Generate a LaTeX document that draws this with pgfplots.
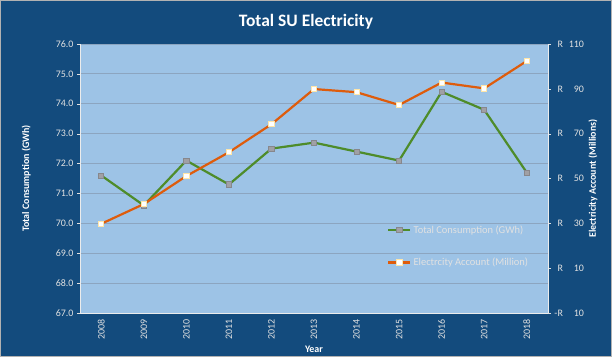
\documentclass[border=0pt]{standalone}
\usepackage{pgfplots}
\pgfplotsset{compat=1.18}
\usepackage{fontspec}
\setmainfont{Carlito}
\definecolor{bgblue}{RGB}{19,75,125}
\definecolor{plotblue}{RGB}{157,195,230}
\definecolor{gridc}{RGB}{140,165,192}
\definecolor{lgreen}{RGB}{78,140,42}
\definecolor{lorange}{RGB}{222,92,12}
\definecolor{tickc}{RGB}{225,225,225}
\definecolor{mgray}{RGB}{160,160,165}
\definecolor{mgrayb}{RGB}{135,135,140}
\definecolor{mcream}{RGB}{255,230,170}
\pgfplotstableread{
x year cons
0 2008 71.6
1 2009 70.6
2 2010 72.1
3 2011 71.3
4 2012 72.5
5 2013 72.7
6 2014 72.4
7 2015 72.1
8 2016 74.4
9 2017 73.8
10 2018 71.7
}\constable
\pgfplotstableread{
x year acc
0 2008 29.8
1 2009 38.6
2 2010 51.1
3 2011 61.7
4 2012 74.2
5 2013 89.9
6 2014 88.5
7 2015 82.8
8 2016 92.8
9 2017 90.2
10 2018 102.4
}\acctable
\begin{document}
\begin{tikzpicture}
\fill[bgblue] (0bp,0bp) rectangle (612bp,357bp);
\draw[gray!60, line width=0.6bp] (0.3bp,0.3bp) rectangle (611.7bp,356.7bp);
\node[text=white, font=\bfseries\fontsize{17.5}{20}\selectfont] at (306bp,335bp) {Total SU Electricity};
\begin{axis}[
  at={(80bp,44bp)}, anchor=south west,
  scale only axis, width=468bp, height=269bp,
  xmin=-0.5, xmax=10.5, ymin=67, ymax=76,
  ytick={67,68,...,76},
  yticklabel style={/pgf/number format/fixed, /pgf/number format/fixed zerofill, /pgf/number format/precision=1, text=tickc, font=\fontsize{10}{11}\selectfont},
  /pgf/number format/assume math mode=true,
  xtick={0,...,10},
  xticklabels={2008,2009,2010,2011,2012,2013,2014,2015,2016,2017,2018},
  xticklabel style={rotate=90, anchor=east, text=tickc, font=\fontsize{10}{11}\selectfont},
  axis background/.style={fill=plotblue},
  axis line style={draw=white!85!gray, line width=0.8bp},
  ymajorgrids, major grid style={draw=gridc, line width=0.8bp},
  xtick style={draw=none},
  ytick style={draw=tickc},
  tick align=outside, major tick length=3bp,
  axis y line*=left, axis x line*=bottom,
  separate axis lines,
  xlabel={Year}, xlabel style={text=white, font=\bfseries\fontsize{10}{11}\selectfont, yshift=1bp},
  ylabel={Total Consumption (GWh)}, ylabel style={text=white, font=\bfseries\fontsize{10}{11}\selectfont, at={(axis description cs:-0.115,0.5)}, anchor=center},
  clip=false,
]
\addplot[lgreen, line width=2.2bp, mark=square*, mark size=2.6bp, mark options={fill=mgray, draw=mgrayb, line width=0.8bp}] table[x=x, y=cons] {\constable};
\end{axis}
\begin{axis}[
  at={(80bp,44bp)}, anchor=south west,
  scale only axis, width=468bp, height=269bp,
  xmin=-0.5, xmax=10.5, ymin=-10, ymax=110,
  axis x line=none,
  axis y line*=right,
  ytick={-10,10,30,50,70,90,110},
  yticklabels={{\llap{-}R\hbox to 21bp{\hfill 10}},{R\hbox to 21bp{\hfill 10}},{R\hbox to 21bp{\hfill 30}},{R\hbox to 21bp{\hfill 50}},{R\hbox to 21bp{\hfill 70}},{R\hbox to 21bp{\hfill 90}},{R\hbox to 21bp{\hfill 110}}},
  yticklabel style={text=tickc, font=\fontsize{10}{11}\selectfont, anchor=west, xshift=3bp},
  axis line style={draw=white!85!gray, line width=0.8bp},
  ytick style={draw=tickc},
  tick align=outside, major tick length=3bp,
  ylabel={Electricity Account (Millions)}, ylabel style={text=white, font=\bfseries\fontsize{10}{11}\selectfont, at={(axis description cs:1.096,0.5)}, anchor=center},
  legend style={draw=none, fill=none, at={(0.65,0.34)}, anchor=north west, text=tickc, font=\fontsize{10.5}{12}\selectfont, row sep=19bp},
  legend cell align=left,
  legend image code/.code={\draw[#1] (0bp,0bp) -- (22bp,0bp); \draw[#1, mark repeat=1] plot coordinates {(11bp,0bp)};},
  clip=false,
]
\addlegendimage{lgreen, line width=2.2bp, mark=square*, mark size=2.6bp, mark options={fill=mgray, draw=mgrayb, line width=0.8bp}}
\addlegendentry{Total Consumption (GWh)}
\addplot[lorange, line width=2.2bp, mark=square*, mark size=2.6bp, mark options={fill=white, draw=mcream, line width=0.8bp}] table[x=x, y=acc] {\acctable};
\addlegendentry{Electrcity Account (Million)}
\end{axis}
\end{tikzpicture}
\end{document}
